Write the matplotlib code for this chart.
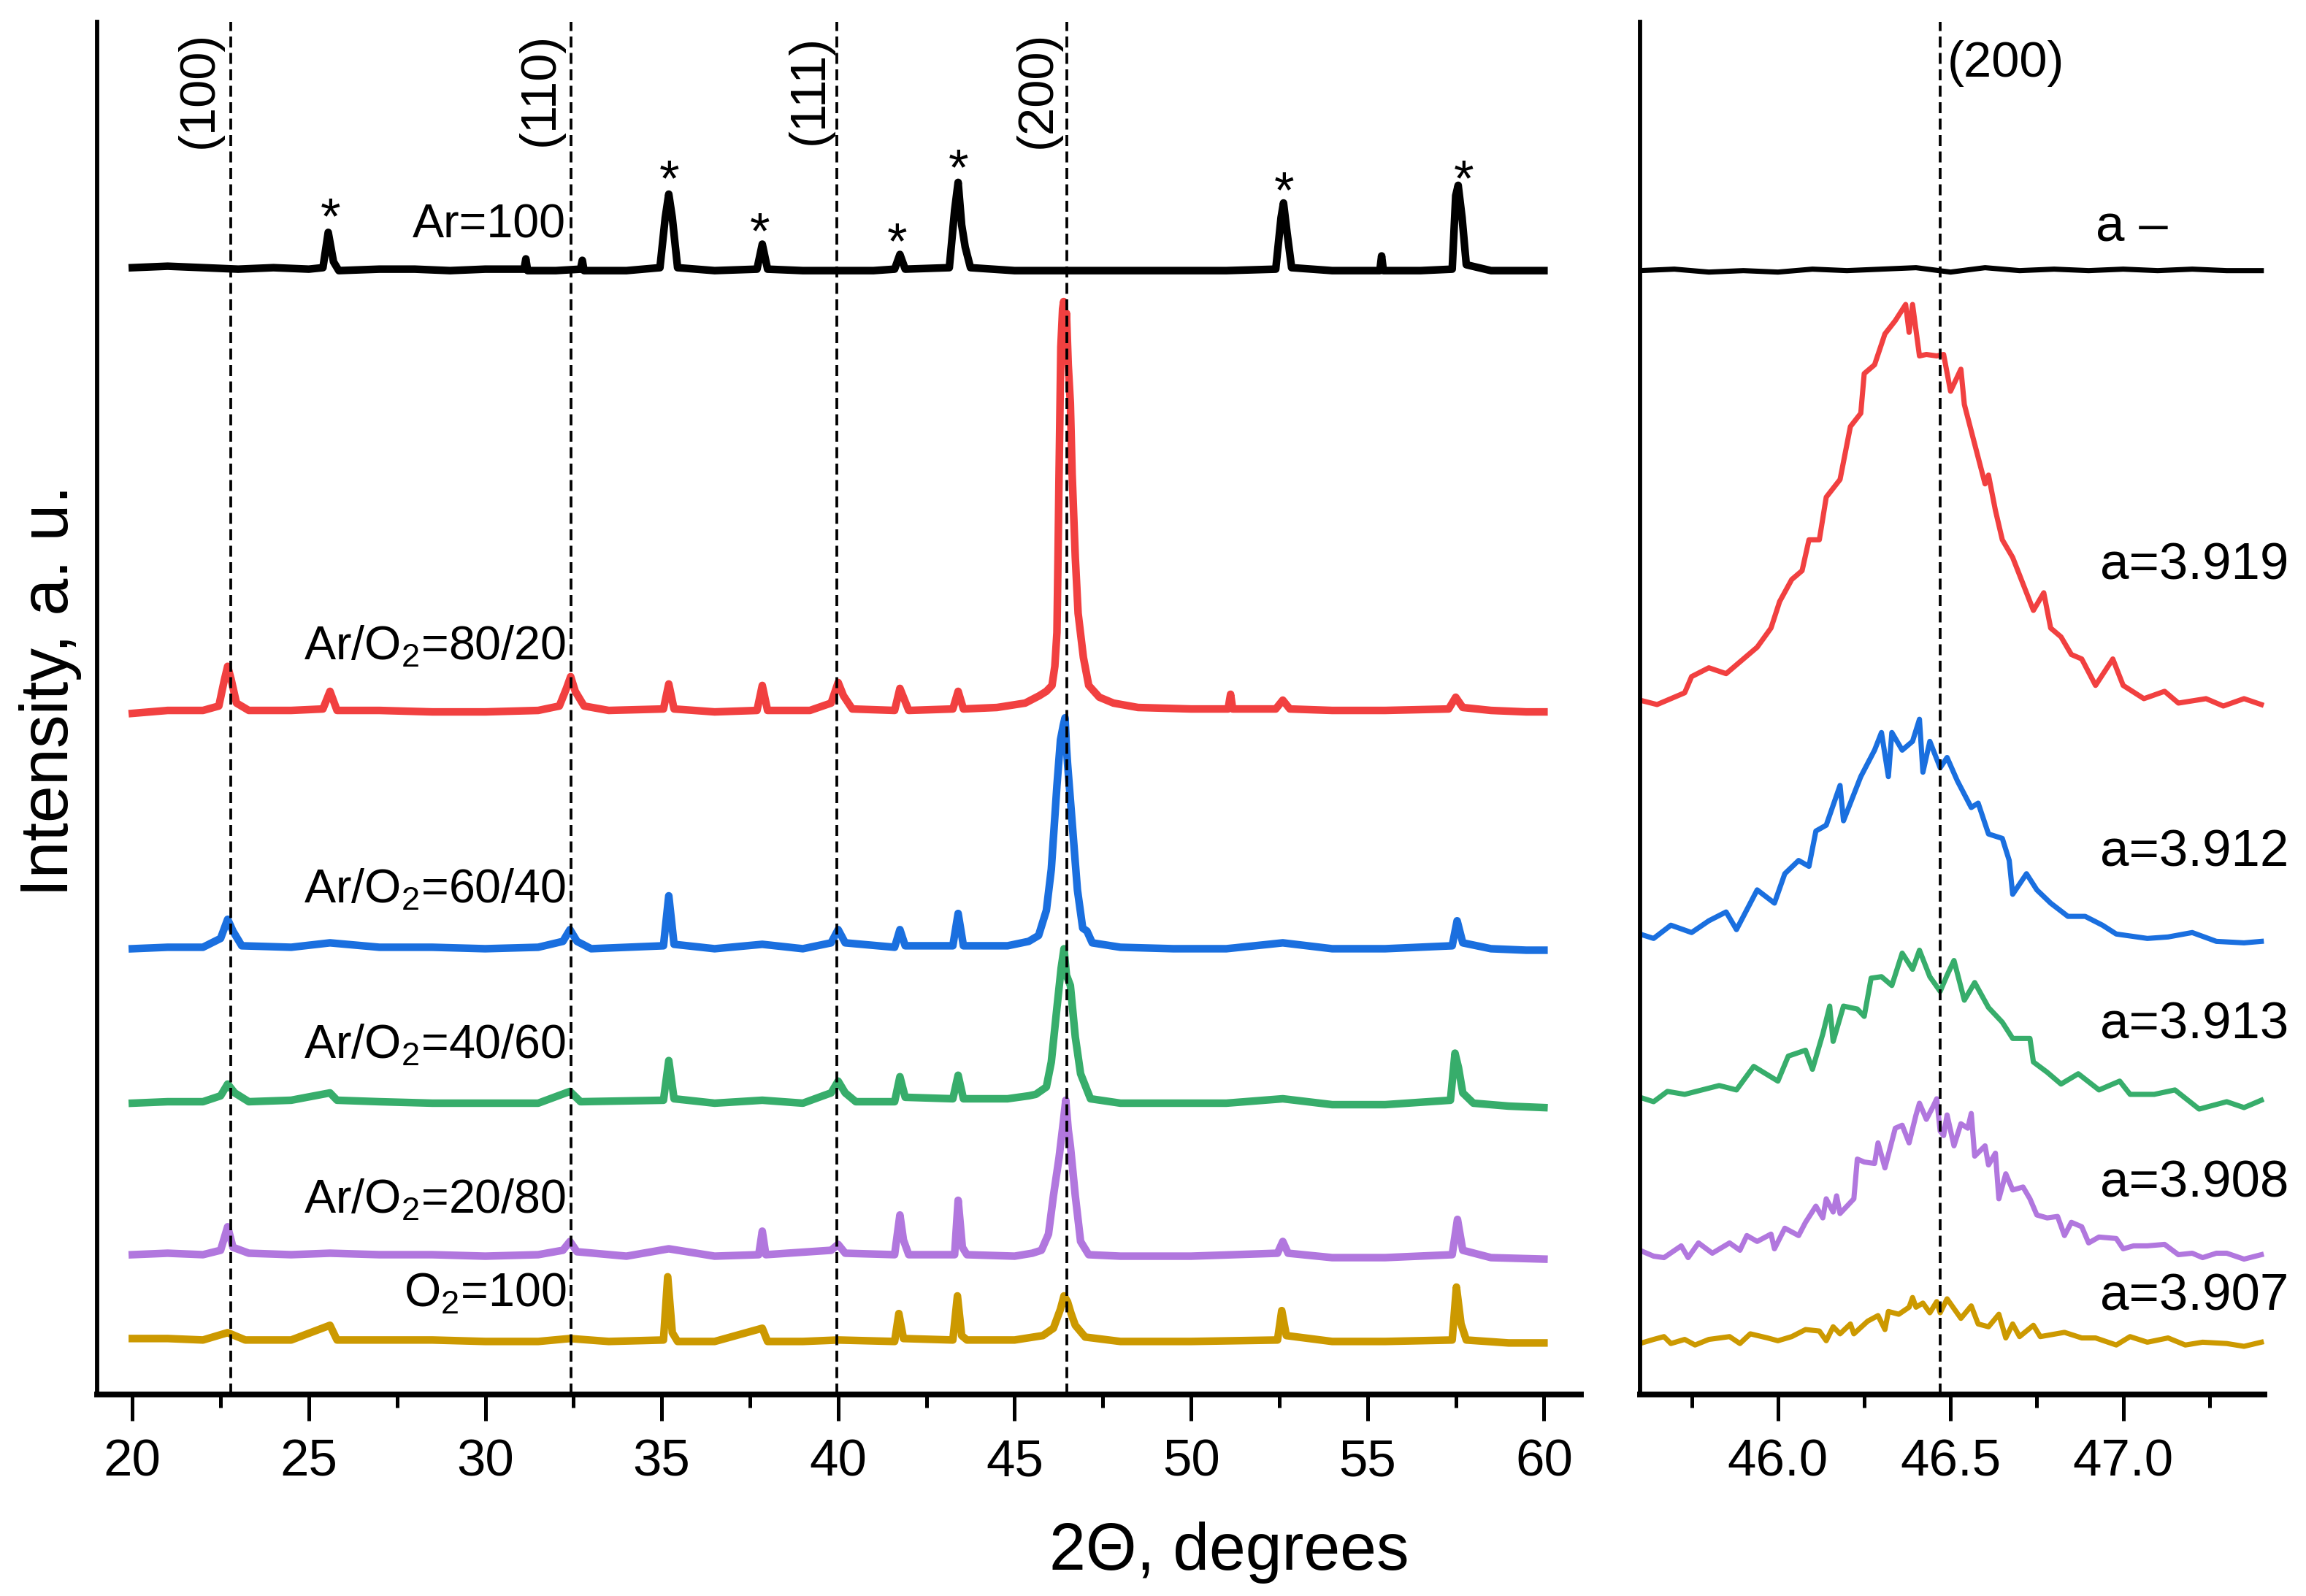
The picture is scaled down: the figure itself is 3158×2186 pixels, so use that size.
import matplotlib
matplotlib.use('Agg')
import matplotlib.pyplot as plt
from matplotlib.ticker import MultipleLocator, FormatStrFormatter

plt.rcParams['font.family'] = ['Liberation Sans', 'DejaVu Sans']
plt.rcParams['mathtext.fontset'] = 'custom'
plt.rcParams['mathtext.rm'] = 'Liberation Sans'
plt.rcParams['mathtext.it'] = 'Liberation Sans:italic'

# ---- full scan 20-60 deg (2theta, intensity with stacking offset already in) ----
ar100 = [(20.0, 766), (21.0, 767), (22.0, 766), (23.0, 765), (24.0, 766), (25.0, 765),
         (25.4, 766), (25.55, 790), (25.7, 770), (25.85, 764), (27.0, 765), (28.0, 765),
         (29.0, 764), (30.0, 765), (31.1, 765), (31.15, 772), (31.2, 764), (32.0, 764),
         (32.7, 765), (32.75, 771), (32.8, 764), (34.0, 764), (34.95, 766), (35.1, 800),
         (35.2, 816), (35.3, 800), (35.45, 766), (36.5, 764), (37.7, 765), (37.85, 782),
         (38.0, 765), (39.0, 764), (40.0, 764), (41.0, 764), (41.6, 765), (41.75, 775),
         (41.9, 765), (43.15, 766), (43.3, 805), (43.4, 824), (43.5, 795), (43.6, 780),
         (43.75, 766), (45.0, 764), (46.5, 764), (47.5, 764), (49.0, 764), (50.0, 764),
         (51.0, 764), (52.4, 765), (52.55, 800), (52.62, 810), (52.72, 790), (52.85, 766),
         (54.0, 764), (55.35, 764), (55.4, 774), (55.45, 764), (56.5, 764), (57.4, 765),
         (57.5, 815), (57.57, 822), (57.68, 800), (57.8, 768), (58.5, 764), (59.5, 764),
         (60.0, 764)]

ar80_o20 = [(20.0, 463), (21.0, 465), (22.0, 465), (22.45, 468), (22.6, 485), (22.7, 495),
            (22.8, 486), (22.95, 470), (23.3, 465), (24.5, 465), (25.4, 466), (25.6, 478),
            (25.8, 465), (27.0, 465), (28.5, 464), (30.0, 464), (31.5, 465), (32.1, 468),
            (32.3, 480), (32.42, 488), (32.55, 478), (32.8, 468), (33.5, 465), (35.05, 466),
            (35.2, 483), (35.35, 466), (36.5, 464), (37.7, 465), (37.85, 482), (38.0, 465),
            (39.2, 465), (39.8, 470), (40.0, 484), (40.15, 475), (40.4, 466), (41.6, 465),
            (41.75, 480), (41.85, 474), (42.0, 465), (43.25, 466), (43.4, 478), (43.55, 466),
            (44.5, 467), (45.3, 470), (45.7, 475), (45.9, 478), (46.06, 482), (46.14, 495),
            (46.2, 518), (46.23, 569), (46.26, 626), (46.31, 712), (46.36, 738), (46.39, 743),
            (46.43, 710), (46.47, 735), (46.52, 700), (46.58, 674), (46.63, 626), (46.72, 569),
            (46.8, 531), (46.95, 501), (47.1, 482), (47.4, 474), (47.8, 470), (48.5, 467),
            (50.0, 466), (51.05, 466), (51.12, 476), (51.18, 466), (52.4, 466), (52.6, 472),
            (52.8, 466), (54.0, 465), (55.5, 465), (57.3, 466), (57.5, 474), (57.7, 467),
            (58.5, 465), (59.5, 464), (60.0, 464)]

ar60_o40 = [(20.0, 303), (21.0, 304), (22.0, 304), (22.5, 310), (22.7, 323), (22.85, 315),
            (23.1, 305), (24.5, 304), (25.6, 307), (27.0, 304), (28.5, 304), (30.0, 303),
            (31.5, 304), (32.2, 308), (32.4, 316), (32.6, 308), (33.0, 303), (35.05, 305),
            (35.2, 339), (35.35, 306), (36.5, 303), (37.85, 306), (39.0, 303), (39.8, 307),
            (40.0, 316), (40.2, 307), (41.6, 304), (41.75, 316), (41.9, 305), (43.25, 305),
            (43.4, 327), (43.55, 305), (44.8, 305), (45.4, 308), (45.68, 312), (45.9, 329),
            (46.04, 357), (46.2, 414), (46.3, 445), (46.38, 455), (46.43, 460), (46.47, 440),
            (46.5, 429), (46.64, 386), (46.78, 343), (46.93, 317), (47.05, 315), (47.2, 307),
            (48.0, 304), (49.5, 303), (51.0, 303), (52.6, 307), (54.0, 303), (55.5, 303),
            (57.4, 305), (57.54, 322), (57.7, 307), (58.5, 303), (59.5, 302), (60.0, 302)]

ar40_o60 = [(20.0, 198), (21.0, 199), (22.0, 199), (22.5, 203), (22.7, 211), (22.9, 205),
            (23.3, 199), (24.5, 200), (25.6, 205), (25.8, 200), (27.0, 199), (28.5, 198),
            (30.0, 198), (31.5, 198), (32.4, 206), (32.7, 199), (35.05, 200), (35.2, 227),
            (35.35, 201), (36.5, 198), (37.85, 200), (39.0, 198), (39.8, 205), (40.0, 213),
            (40.2, 205), (40.5, 199), (41.6, 199), (41.75, 216), (41.9, 202), (43.25, 201),
            (43.4, 217), (43.55, 201), (44.8, 201), (45.4, 203), (45.6, 204), (45.9, 209),
            (46.04, 226), (46.2, 263), (46.32, 290), (46.4, 303), (46.47, 285), (46.58, 278),
            (46.72, 243), (46.87, 218), (47.15, 201), (48.0, 198), (49.5, 198), (51.0, 198),
            (52.6, 201), (54.0, 197), (55.5, 197), (57.35, 200), (57.48, 232), (57.58, 222),
            (57.7, 205), (58.0, 198), (59.0, 196), (60.0, 195)]

ar20_o80 = [(20.0, 95), (21.0, 96), (22.0, 95), (22.5, 98), (22.7, 114), (22.85, 100),
            (23.3, 96), (24.5, 95), (25.6, 96), (27.0, 95), (28.5, 95), (30.0, 94),
            (31.5, 95), (32.2, 98), (32.4, 104), (32.6, 97), (34.0, 94), (35.2, 99),
            (36.5, 94), (37.75, 95), (37.85, 111), (37.95, 95), (39.8, 98), (40.0, 102),
            (40.2, 96), (41.6, 95), (41.75, 122), (41.85, 105), (42.0, 95), (43.3, 95),
            (43.4, 132), (43.52, 100), (43.65, 95), (45.0, 94), (45.5, 96), (45.76, 98),
            (45.96, 109), (46.1, 135), (46.26, 161), (46.38, 185), (46.45, 200), (46.52, 180),
            (46.58, 169), (46.72, 135), (46.87, 104), (47.1, 95), (48.0, 94), (50.0, 94),
            (52.45, 96), (52.6, 104), (52.75, 96), (54.0, 93), (55.5, 93), (57.4, 95),
            (57.55, 119), (57.7, 98), (58.5, 93), (60.0, 92)]

o100 = [(20.0, 38), (21.0, 38), (22.0, 37), (22.7, 42), (23.2, 37), (24.5, 37), (25.6, 47),
        (25.8, 37), (27.0, 37), (28.5, 37), (30.0, 36), (31.5, 36), (32.4, 38), (33.5, 36),
        (35.05, 37), (35.17, 80), (35.3, 42), (35.45, 36), (36.5, 36), (37.85, 45), (38.0, 36),
        (39.0, 36), (40.0, 37), (41.6, 36), (41.72, 55), (41.85, 38), (43.25, 37), (43.38, 67),
        (43.5, 40), (43.65, 37), (45.0, 37), (45.8, 40), (46.1, 45), (46.3, 58), (46.4, 67),
        (46.5, 63), (46.6, 55), (46.72, 47), (47.0, 39), (48.0, 36), (50.0, 36), (52.45, 37),
        (52.57, 57), (52.7, 40), (54.0, 36), (55.5, 36), (57.4, 37), (57.52, 73), (57.65, 48),
        (57.8, 37), (59.0, 35), (60.0, 35)]

# ---- zoom on the (200) reflection ----
z_ar100 = [(45.6, 764), (45.7, 765), (45.8, 763), (45.9, 764), (46.0, 763), (46.1, 765),
           (46.2, 764), (46.3, 765), (46.4, 766), (46.5, 763), (46.6, 766), (46.7, 764),
           (46.8, 765), (46.9, 764), (47.0, 765), (47.1, 764), (47.2, 765), (47.3, 764),
           (47.4, 764)]

z_ar80 = [(45.60, 472), (45.65, 469), (45.73, 477), (45.75, 488), (45.80, 494), (45.85, 490),
          (45.90, 500), (45.94, 508), (45.98, 521), (46.005, 539), (46.04, 554), (46.07, 560),
          (46.09, 581), (46.12, 581), (46.14, 610), (46.18, 622), (46.21, 658), (46.24, 667),
          (46.25, 694), (46.28, 700), (46.31, 721), (46.34, 730), (46.37, 741), (46.38, 722),
          (46.39, 741), (46.41, 706), (46.43, 707), (46.46, 706), (46.48, 707), (46.50, 682),
          (46.53, 697), (46.54, 673), (46.57, 646), (46.60, 619), (46.61, 625), (46.63, 601),
          (46.65, 581), (46.68, 569), (46.71, 551), (46.74, 533), (46.77, 545), (46.79, 521),
          (46.82, 515), (46.85, 503), (46.88, 500), (46.92, 482), (46.97, 500), (47.00, 482),
          (47.06, 473), (47.12, 478), (47.16, 470), (47.24, 473), (47.29, 468), (47.35, 473),
          (47.40, 469)]

z_ar60 = [(45.60, 313), (45.64, 310), (45.69, 319), (45.75, 314), (45.80, 322), (45.85, 328),
          (45.88, 316), (45.94, 343), (45.99, 334), (46.02, 354), (46.06, 363), (46.09, 359),
          (46.11, 383), (46.14, 387), (46.18, 414), (46.19, 390), (46.22, 408), (46.24, 420),
          (46.28, 438), (46.30, 450), (46.32, 420), (46.33, 450), (46.36, 438), (46.39, 444),
          (46.41, 459), (46.42, 423), (46.44, 444), (46.47, 426), (46.49, 433), (46.52, 417),
          (46.56, 399), (46.58, 402), (46.61, 381), (46.65, 378), (46.67, 363), (46.68, 340),
          (46.72, 354), (46.75, 343), (46.79, 334), (46.84, 325), (46.89, 325), (46.94, 319),
          (46.98, 313), (47.07, 310), (47.13, 311), (47.20, 314), (47.27, 308), (47.35, 307),
          (47.40, 308)]

z_ar40 = [(45.60, 202), (45.64, 199), (45.68, 206), (45.73, 204), (45.78, 207), (45.83, 210),
          (45.88, 207), (45.93, 223), (46.00, 213), (46.03, 230), (46.08, 234), (46.10, 221),
          (46.13, 245), (46.15, 264), (46.16, 240), (46.19, 264), (46.23, 262), (46.25, 257),
          (46.27, 283), (46.30, 284), (46.33, 278), (46.36, 300), (46.39, 289), (46.41, 302),
          (46.44, 284), (46.47, 274), (46.49, 285), (46.51, 295), (46.54, 268), (46.57, 280),
          (46.61, 263), (46.65, 253), (46.68, 242), (46.73, 242), (46.74, 226), (46.78, 219),
          (46.82, 211), (46.87, 218), (46.93, 207), (46.99, 213), (47.02, 204), (47.09, 204),
          (47.15, 207), (47.22, 194), (47.30, 199), (47.35, 195), (47.40, 200)]

z_ar20 = [(45.60, 98), (45.64, 94), (45.67, 93), (45.72, 101), (45.74, 93), (45.77, 103),
          (45.81, 96), (45.86, 103), (45.89, 98), (45.91, 108), (45.94, 104), (45.98, 109),
          (45.99, 99), (46.02, 113), (46.06, 108), (46.08, 117), (46.11, 128), (46.13, 120),
          (46.14, 133), (46.16, 124), (46.17, 135), (46.18, 123), (46.22, 133), (46.23, 160),
          (46.25, 158), (46.28, 157), (46.29, 171), (46.31, 154), (46.34, 181), (46.36, 183),
          (46.38, 171), (46.40, 190), (46.41, 198), (46.43, 187), (46.45, 196), (46.46, 201),
          (46.47, 179), (46.48, 176), (46.49, 190), (46.51, 169), (46.53, 184), (46.55, 181),
          (46.56, 191), (46.57, 162), (46.60, 169), (46.61, 156), (46.63, 164), (46.64, 133),
          (46.66, 150), (46.68, 139), (46.71, 141), (46.73, 133), (46.75, 122), (46.78, 120),
          (46.81, 121), (46.83, 108), (46.85, 117), (46.88, 114), (46.90, 103), (46.93, 107),
          (46.98, 106), (47.00, 99), (47.03, 101), (47.07, 101), (47.12, 102), (47.16, 95),
          (47.20, 96), (47.23, 93), (47.27, 96), (47.30, 96), (47.35, 92), (47.40, 95)]

z_o100 = [(45.60, 34.6), (45.64, 37.4), (45.67, 39.3), (45.69, 34.6), (45.73, 37.4), (45.76, 33.6),
          (45.80, 37.4), (45.86, 39.3), (45.89, 34.6), (45.92, 41.2), (45.97, 38.4), (46.00, 36.5),
          (46.04, 39.3), (46.08, 44.1), (46.12, 43.1), (46.14, 36.5), (46.16, 46.0), (46.18, 41.2),
          (46.21, 47.9), (46.22, 41.2), (46.26, 49.8), (46.29, 53.6), (46.31, 44.1), (46.32, 56.4),
          (46.35, 54.5), (46.38, 59.3), (46.39, 65.9), (46.40, 59.3), (46.42, 62.1), (46.44, 55.5),
          (46.46, 63.1), (46.47, 55.5), (46.49, 65.0), (46.53, 51.7), (46.56, 60.2), (46.58, 47.9),
          (46.61, 46.0), (46.64, 54.5), (46.66, 38.4), (46.68, 47.9), (46.70, 39.3), (46.74, 47.0),
          (46.76, 39.3), (46.83, 42.2), (46.88, 38.4), (46.92, 38.4), (46.98, 33.6), (47.02, 39.3),
          (47.07, 35.5), (47.13, 38.4), (47.18, 33.6), (47.23, 35.5), (47.30, 34.6), (47.35, 32.7),
          (47.40, 35.5)]

full_scans = [ar100, ar80_o20, ar60_o40, ar40_o60, ar20_o80, o100]
zoom_scans = [z_ar100, z_ar80, z_ar60, z_ar40, z_ar20, z_o100]
colors = ['#000000', '#F14040', '#1A6FDF', '#37AD6B', '#B177DE', '#CC9900']

sample_labels = ['Ar=100', 'Ar/O$_2$=80/20', 'Ar/O$_2$=60/40', 'Ar/O$_2$=40/60',
                 'Ar/O$_2$=20/80', 'O$_2$=100']
sample_label_y = [795, 508, 343, 237, 132, 68]

lattice_labels = ['a \u2013', 'a=3.919', 'a=3.912', 'a=3.913', 'a=3.908', 'a=3.907']
lattice_label_y = [793, 563, 368, 251, 143, 66]

hkl_labels = ['(100)', '(110)', '(111)', '(200)']
hkl_lines = [22.78, 32.42, 39.97, 46.47]
hkl_label_x = [21.9, 31.55, 39.2, 45.65]

star_x = [25.62, 35.21, 37.79, 41.67, 43.42, 52.63, 57.72]
star_y = [798, 824, 788, 781, 831, 816, 824]

fig = plt.figure(figsize=(3158 / 300, 2186 / 300), dpi=300)
ax1 = fig.add_axes([0.0421, 0.1263, 0.6435, 0.8599])
ax2 = fig.add_axes([0.7111, 0.1263, 0.2710, 0.8599])

for ax in (ax1, ax2):
    ax.spines['top'].set_visible(False)
    ax.spines['right'].set_visible(False)
    ax.spines['left'].set_linewidth(1.4)
    ax.spines['bottom'].set_linewidth(1.9)
    ax.set_yticks([])
    ax.set_ylim(0, 933)
    ax.tick_params(axis='x', which='major', direction='out', length=8.6, width=1.2,
                   labelsize=17, pad=6)
    ax.tick_params(axis='x', which='minor', direction='out', length=4.3, width=1.2)

# left: full patterns (thick line stands in for the noise band)
for scan, c in zip(full_scans, colors):
    xs = [p[0] for p in scan]
    ys = [p[1] for p in scan]
    ax1.plot(xs, ys, color=c, lw=2.5, solid_joinstyle='round')

for xl in hkl_lines:
    ax1.axvline(xl, color='black', lw=0.9, dashes=(4, 2))

for lab, xl in zip(hkl_labels, hkl_label_x):
    ax1.text(xl, 887, lab, rotation=90, ha='center', va='center', fontsize=16.5)

for lab, yl in zip(sample_labels, sample_label_y):
    ax1.text(32.29, yl, lab, ha='right', va='center', fontsize=15.5)

for sx, sy in zip(star_x, star_y):
    ax1.text(sx, sy, '*', ha='center', va='center', fontsize=17)

ax1.set_xlim(19, 61.05)
ax1.xaxis.set_major_locator(MultipleLocator(5))
ax1.xaxis.set_minor_locator(MultipleLocator(2.5))

# right: zoom on (200)
for scan, c in zip(zoom_scans, colors):
    xs = [p[0] for p in scan]
    ys = [p[1] for p in scan]
    ax2.plot(xs, ys, color=c, lw=1.7, solid_joinstyle='round')

ax2.axvline(46.47, color='black', lw=0.9, dashes=(4, 2))
ax2.text(46.49, 905, '(200)', ha='left', va='center', fontsize=16.5)

ax2.text(46.92, lattice_label_y[0], lattice_labels[0], ha='left', va='center', fontsize=17)
for lab, yl in zip(lattice_labels[1:], lattice_label_y[1:]):
    ax2.text(47.48, yl, lab, ha='right', va='center', fontsize=17, clip_on=False)

ax2.set_xlim(45.6, 47.41)
ax2.xaxis.set_major_locator(MultipleLocator(0.5))
ax2.xaxis.set_minor_locator(MultipleLocator(0.25))
ax2.xaxis.set_major_formatter(FormatStrFormatter('%.1f'))

fig.text(0.022, 0.567, 'Intensity, a. u.', rotation=90, ha='center', va='center', fontsize=22)
fig.text(0.533, 0.0166, '2\u0398, degrees', ha='center', va='baseline', fontsize=21.5)

fig.savefig('out.png', dpi=300)
